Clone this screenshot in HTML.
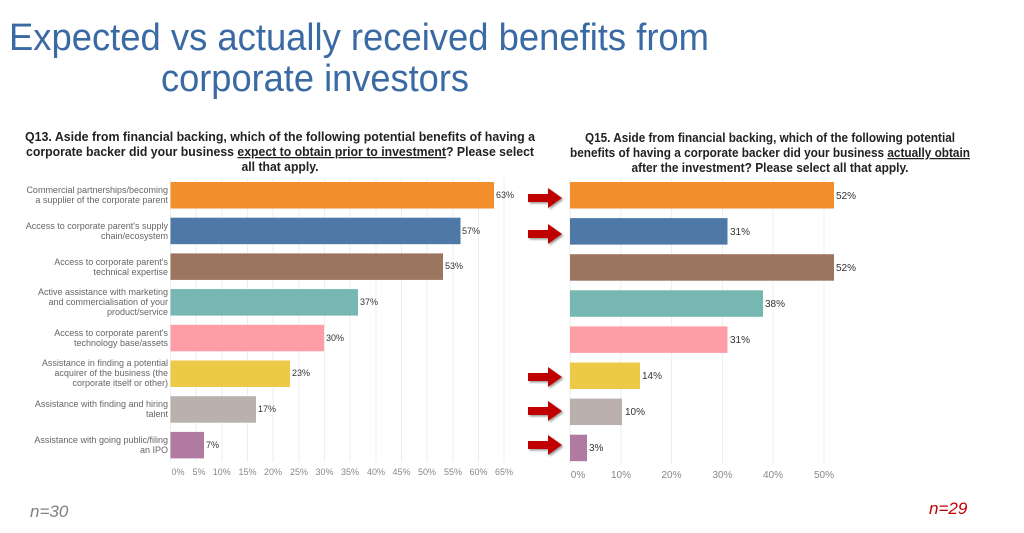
<!DOCTYPE html>
<html><head><meta charset="utf-8"><style>
html,body{margin:0;padding:0;background:#fff;}
svg{display:block;font-family:"Liberation Sans",sans-serif;}
</style></head><body>
<svg width="1024" height="533" viewBox="0 0 1024 533" xmlns="http://www.w3.org/2000/svg">
<defs>
<filter id="sh" x="-20%" y="-30%" width="150%" height="170%"><feDropShadow dx="1.5" dy="1.5" stdDeviation="1" flood-color="#555" flood-opacity="0.6"/></filter>
<g id="arr"><polygon points="0,-4 20,-4 20,-10 34,0 20,10 20,4 0,4" fill="#c00000" filter="url(#sh)"/></g>
</defs>
<!-- Title -->
<text x="9" y="50" font-size="38" fill="#3a6aa3" textLength="700" lengthAdjust="spacingAndGlyphs">Expected vs actually received benefits from</text>
<text x="161" y="91" font-size="38" fill="#3a6aa3" textLength="308" lengthAdjust="spacingAndGlyphs">corporate investors</text>
<!-- Subtitles -->
<g font-size="12.5" font-weight="bold" fill="#222" text-anchor="middle">
<text x="280" y="141" textLength="510" lengthAdjust="spacingAndGlyphs">Q13. Aside from financial backing, which of the following potential benefits of having a</text>
<text x="280" y="156" textLength="508" lengthAdjust="spacingAndGlyphs">corporate backer did your business <tspan text-decoration="underline">expect to obtain prior to investment</tspan>? Please select</text>
<text x="280" y="171" textLength="77" lengthAdjust="spacingAndGlyphs">all that apply.</text>
<text x="770" y="142" textLength="370" lengthAdjust="spacingAndGlyphs">Q15. Aside from financial backing, which of the following potential</text>
<text x="770" y="157" textLength="400" lengthAdjust="spacingAndGlyphs">benefits of having a corporate backer did your business <tspan text-decoration="underline">actually obtain</tspan></text>
<text x="770" y="172" textLength="277" lengthAdjust="spacingAndGlyphs">after the investment? Please select all that apply.</text>
</g>
<!-- Left gridlines -->
<g stroke="#eee" stroke-width="1">
<line x1="170.5" y1="178" x2="170.5" y2="462"/><line x1="196" y1="178" x2="196" y2="462"/><line x1="222" y1="178" x2="222" y2="462"/><line x1="247.5" y1="178" x2="247.5" y2="462"/><line x1="273" y1="178" x2="273" y2="462"/><line x1="299" y1="178" x2="299" y2="462"/><line x1="324.5" y1="178" x2="324.5" y2="462"/><line x1="350" y1="178" x2="350" y2="462"/><line x1="376" y1="178" x2="376" y2="462"/><line x1="401.5" y1="178" x2="401.5" y2="462"/><line x1="427" y1="178" x2="427" y2="462"/><line x1="453" y1="178" x2="453" y2="462"/><line x1="478.5" y1="178" x2="478.5" y2="462"/><line x1="504" y1="178" x2="504" y2="462"/>
<line x1="570" y1="178" x2="570" y2="464"/><line x1="621" y1="178" x2="621" y2="464"/><line x1="671.5" y1="178" x2="671.5" y2="464"/><line x1="722.5" y1="178" x2="722.5" y2="464"/><line x1="773" y1="178" x2="773" y2="464"/><line x1="824" y1="178" x2="824" y2="464"/>
</g>
<!-- Left bars -->
<g>
<rect x="170.5" y="182" width="323.5" height="26.5" fill="#f28e2b"/>
<rect x="170.5" y="217.7" width="290" height="26.5" fill="#4e79a7"/>
<rect x="170.5" y="253.4" width="272.5" height="26.5" fill="#9c755f"/>
<rect x="170.5" y="289.1" width="187.5" height="26.5" fill="#76b7b2"/>
<rect x="170.5" y="324.8" width="153.5" height="26.5" fill="#ff9da7"/>
<rect x="170.5" y="360.5" width="119.5" height="26.5" fill="#edc948"/>
<rect x="170.5" y="396.2" width="85.5" height="26.5" fill="#bab0ac"/>
<rect x="170.5" y="431.9" width="33.5" height="26.5" fill="#b07aa1"/>
</g>
<g font-size="9" fill="#333">
<text x="496" y="198">63%</text><text x="462" y="234">57%</text><text x="445" y="269">53%</text><text x="360" y="305">37%</text><text x="326" y="341">30%</text><text x="292" y="376">23%</text><text x="258" y="412">17%</text><text x="206" y="448">7%</text>
</g>
<g font-size="9" fill="#666" text-anchor="end">
<text x="168" y="193">Commercial partnerships/becoming</text><text x="168" y="203">a supplier of the corporate parent</text>
<text x="168" y="229">Access to corporate parent's supply</text><text x="168" y="239">chain/ecosystem</text>
<text x="168" y="265">Access to corporate parent's</text><text x="168" y="275">technical expertise</text>
<text x="168" y="295">Active assistance with marketing</text><text x="168" y="305">and commercialisation of your</text><text x="168" y="315">product/service</text>
<text x="168" y="336">Access to corporate parent's</text><text x="168" y="346">technology base/assets</text>
<text x="168" y="366">Assistance in finding a potential</text><text x="168" y="376">acquirer of the business (the</text><text x="168" y="386">corporate itself or other)</text>
<text x="168" y="407">Assistance with finding and hiring</text><text x="168" y="417">talent</text>
<text x="168" y="443">Assistance with going public/filing</text><text x="168" y="453">an IPO</text>
</g>
<g font-size="9" fill="#888" text-anchor="middle">
<text x="178" y="475">0%</text><text x="199" y="475">5%</text><text x="221.8" y="475">10%</text><text x="247.5" y="475">15%</text><text x="273" y="475">20%</text><text x="299" y="475">25%</text><text x="324.5" y="475">30%</text><text x="350" y="475">35%</text><text x="376" y="475">40%</text><text x="401.5" y="475">45%</text><text x="427" y="475">50%</text><text x="453" y="475">55%</text><text x="478.5" y="475">60%</text><text x="504" y="475">65%</text>
</g>
<!-- Right bars -->
<g>
<rect x="570" y="182" width="264" height="26.5" fill="#f28e2b"/>
<rect x="570" y="218.1" width="157.5" height="26.5" fill="#4e79a7"/>
<rect x="570" y="254.2" width="264" height="26.5" fill="#9c755f"/>
<rect x="570" y="290.3" width="193" height="26.5" fill="#76b7b2"/>
<rect x="570" y="326.4" width="157.5" height="26.5" fill="#ff9da7"/>
<rect x="570" y="362.5" width="70" height="26.5" fill="#edc948"/>
<rect x="570" y="398.6" width="52" height="26.5" fill="#bab0ac"/>
<rect x="570" y="434.7" width="17" height="26.5" fill="#b07aa1"/>
</g>
<g font-size="10" fill="#333">
<text x="836" y="199">52%</text><text x="730" y="235">31%</text><text x="836" y="271">52%</text><text x="765" y="307">38%</text><text x="730" y="343">31%</text><text x="642" y="379">14%</text><text x="625" y="415">10%</text><text x="589" y="451">3%</text>
</g>
<g font-size="10" fill="#888" text-anchor="middle">
<text x="578" y="478">0%</text><text x="621" y="478">10%</text><text x="671.5" y="478">20%</text><text x="722.5" y="478">30%</text><text x="773" y="478">40%</text><text x="824" y="478">50%</text>
</g>
<!-- Arrows -->
<use href="#arr" x="528" y="198"/>
<use href="#arr" x="528" y="234"/>
<use href="#arr" x="528" y="377"/>
<use href="#arr" x="528" y="411"/>
<use href="#arr" x="528" y="445"/>
<!-- n labels -->
<text x="30" y="517" font-size="17" font-style="italic" fill="#7f7f7f">n=30</text>
<text x="929" y="514" font-size="17" font-style="italic" fill="#c00000">n=29</text>
</svg>
</body></html>
